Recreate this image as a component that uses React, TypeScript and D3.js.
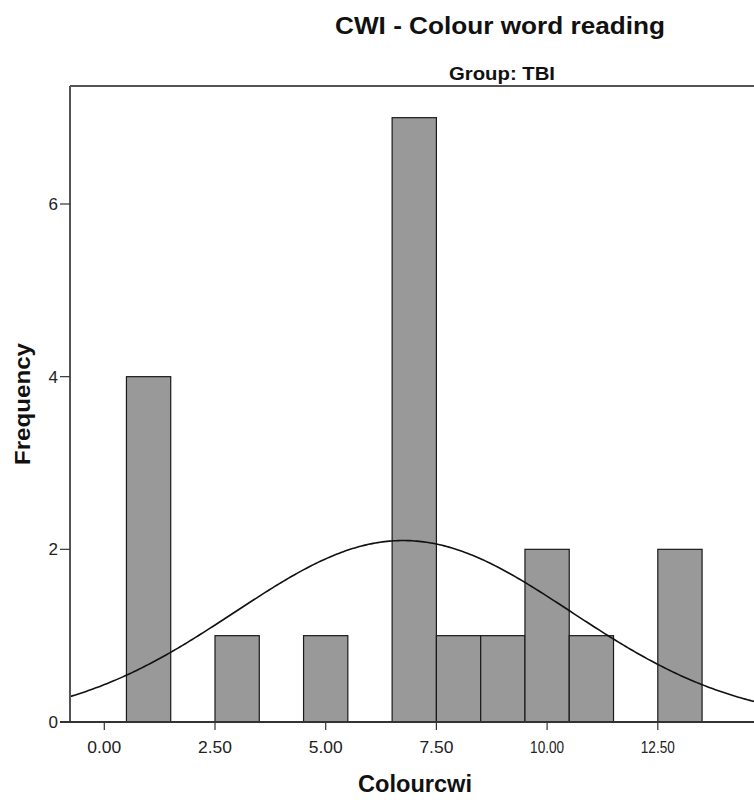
import React from "react";
import * as d3 from "d3";

const binStarts = [0.5, 2.5, 4.5, 6.5, 7.5, 8.5, 9.5, 10.5, 12.5];
const binWidth = 1;
const frequencies = [4, 1, 1, 7, 1, 1, 2, 1, 2];
const xTicks = [0, 2.5, 5, 7.5, 10, 12.5];
const yTicks = [0, 2, 4, 6];
const title = "CWI - Colour word reading";
const subtitle = "Group: TBI";
const xLabel = "Colourcwi";
const yLabel = "Frequency";

export default function App() {
  const W = 754, H = 800;
  const left = 70, top = 86, bottom = 722;
  const x = d3.scaleLinear().domain([0, 12.5]).range([104.3, 657.8]);
  const y = d3.scaleLinear().domain([0, 6]).range([bottom, 204]);

  // normal fit from the binned data
  const n = d3.sum(frequencies);
  const centers = binStarts.map((s) => s + binWidth / 2);
  const mean = d3.sum(centers.map((c, i) => c * frequencies[i])) / n;
  const ss = d3.sum(centers.map((c, i) => frequencies[i] * (c - mean) ** 2));
  const sd = Math.sqrt(ss / (n - 1));
  const x0 = x.invert(left);
  const x1 = x.invert(W + 5);
  const pts: [number, number][] = d3.range(0, 301).map((k) => {
    const v = x0 + ((x1 - x0) * k) / 300;
    const d = (n * binWidth) / (sd * Math.sqrt(2 * Math.PI)) * Math.exp(-0.5 * ((v - mean) / sd) ** 2);
    return [x(v), y(d)];
  });
  const line = d3.line();
  const font = "'Liberation Sans', Arial, sans-serif";

  return (
    <svg width={W} height={H} style={{ position: "absolute", left: 0, top: 0, background: "#fff" }} fontFamily={font}>
      <text x={500} y={34} textAnchor="middle" fontSize={23} fontWeight="bold" fill="#111" textLength={330} lengthAdjust="spacingAndGlyphs">{title}</text>
      <text x={502} y={80} textAnchor="middle" fontSize={18} fontWeight="bold" fill="#111" textLength={106} lengthAdjust="spacingAndGlyphs">{subtitle}</text>
      <defs>
        <clipPath id="plot">
          <rect x={left} y={top} width={W - left + 10} height={bottom - top} />
        </clipPath>
      </defs>
      {binStarts.map((s, i) => (
        <rect key={i} x={x(s)} y={y(frequencies[i])} width={x(s + binWidth) - x(s)} height={bottom - y(frequencies[i])}
          fill="#999999" stroke="#1a1a1a" strokeWidth={1.2} />
      ))}
      <path d={line(pts) || ""} fill="none" stroke="#111" strokeWidth={1.6} clipPath="url(#plot)" />
      <line x1={left} x2={W} y1={top} y2={top} stroke="#555" strokeWidth={2} />
      <line x1={left} x2={left} y1={top} y2={bottom} stroke="#555" strokeWidth={2} />
      <line x1={left - 10} x2={W} y1={bottom} y2={bottom} stroke="#333" strokeWidth={2} />
      {yTicks.map((t) => (
        <g key={t}>
          <line x1={left - 10} x2={left} y1={y(t)} y2={y(t)} stroke="#333" strokeWidth={1.2} />
          <text x={left - 12} y={y(t) + 6} textAnchor="end" fontSize={17} fill="#222">{t}</text>
        </g>
      ))}
      {xTicks.map((t) => (
        <g key={t}>
          <line x1={x(t)} x2={x(t)} y1={bottom} y2={bottom + 8} stroke="#333" strokeWidth={1.2} />
          <text x={x(t)} y={753} textAnchor="middle" fontSize={17} fill="#222" textLength={34} lengthAdjust="spacingAndGlyphs">{d3.format(".2f")(t)}</text>
        </g>
      ))}
      <text x={415} y={792} textAnchor="middle" fontSize={23} fontWeight="bold" fill="#111" textLength={114} lengthAdjust="spacingAndGlyphs">{xLabel}</text>
      <text transform={`translate(30,404) rotate(-90)`} textAnchor="middle" fontSize={22} fontWeight="bold" fill="#111" textLength={122} lengthAdjust="spacingAndGlyphs">{yLabel}</text>
    </svg>
  );
}
